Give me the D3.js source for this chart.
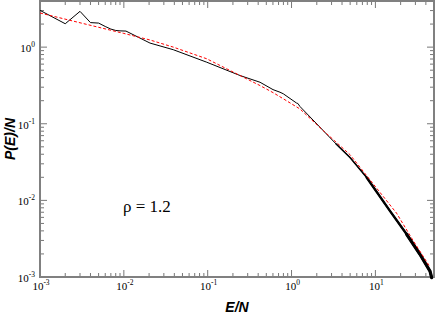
<!DOCTYPE html>
<html>
<head>
<meta charset="utf-8">
<script src="https://cdn.jsdelivr.net/npm/d3@7"></script>
<style>
  body { margin: 0; background: #fff; }
</style>
</head>
<body>
<div id="chart-area"></div>
<script>
// simulation histogram
const simE = [0.001, 0.002, 0.003, 0.004, 0.005, 0.006, 0.007, 0.008, 0.009, 0.0106,
  0.015, 0.0205, 0.0389, 0.0973, 0.243, 0.421, 0.601, 0.728, 0.798, 1.15, 1.19, 1.26,
  2.39, 3.4, 4.98, 7.87, 14.9, 23.6, 34.0, 44.8, 46.9]
const simP = [3.02, 2.02, 2.93, 2.09, 2.06, 1.86, 1.72, 1.65, 1.63, 1.62,
  1.34, 1.13, 0.925, 0.636, 0.426, 0.348, 0.279, 0.258, 0.246, 0.186, 0.184, 0.168,
  0.0813, 0.0544, 0.0363, 0.0199, 0.0073, 0.00361, 0.00198, 0.00119, 0.00098]

// fit (red dashed)
const fitE = [0.001, 0.003, 0.01, 0.0205, 0.0389, 0.0973, 0.243, 0.421, 0.601, 0.79,
  1.26, 2.39, 4.98, 8.63, 17.9, 28.1, 44.8]
const fitP = [2.79, 2.08, 1.51, 1.24, 1.0, 0.705, 0.426, 0.315, 0.255, 0.213,
  0.156, 0.0813, 0.0395, 0.0185, 0.0068, 0.0030, 0.00135]

const xDecades = [-3, -2, -1, 0, 1]
const yDecades = [-3, -2, -1, 0]
const label = 'ρ = 1.2'

const canvas = { width: 436, height: 315 }
const frame = { left: 40, right: 434, top: 1, bottom: 277 }

const svg = d3.select('#chart-area')
  .append('svg')
  .attr('width', canvas.width)
  .attr('height', canvas.height)

const x = d3.scaleLog().domain([1e-3, 50]).range([frame.left, frame.right])
const y = d3.scaleLog().domain([1e-3, 4]).range([frame.bottom, frame.top])

// minor tick positions inside the domain
function minors(scale, decades) {
  const [lo, hi] = scale.domain()
  const out = []
  decades.concat([d3.max(decades) + 1]).forEach(k => {
    for (let m = 2; m <= 9; m++) {
      const v = m * Math.pow(10, k)
      if (v > lo && v < hi) out.push(v)
    }
  })
  return out
}

const ticks = svg.append('g').attr('stroke', '#777').attr('stroke-width', 1)
const majX = xDecades.map(k => Math.pow(10, k))
const majY = yDecades.map(k => Math.pow(10, k))

majX.forEach(v => {
  ticks.append('line').attr('x1', x(v)).attr('x2', x(v)).attr('y1', frame.bottom).attr('y2', frame.bottom - 7)
  ticks.append('line').attr('x1', x(v)).attr('x2', x(v)).attr('y1', frame.top).attr('y2', frame.top + 7)
})
minors(x, xDecades).forEach(v => {
  ticks.append('line').attr('x1', x(v)).attr('x2', x(v)).attr('y1', frame.bottom).attr('y2', frame.bottom - 4)
  ticks.append('line').attr('x1', x(v)).attr('x2', x(v)).attr('y1', frame.top).attr('y2', frame.top + 4)
})
majY.forEach(v => {
  ticks.append('line').attr('y1', y(v)).attr('y2', y(v)).attr('x1', frame.left).attr('x2', frame.left + 7)
  ticks.append('line').attr('y1', y(v)).attr('y2', y(v)).attr('x1', frame.right).attr('x2', frame.right - 7)
})
minors(y, yDecades).forEach(v => {
  ticks.append('line').attr('y1', y(v)).attr('y2', y(v)).attr('x1', frame.left).attr('x2', frame.left + 4)
  ticks.append('line').attr('y1', y(v)).attr('y2', y(v)).attr('x1', frame.right).attr('x2', frame.right - 4)
})

// frame
svg.append('rect')
  .attr('x', frame.left).attr('y', frame.top)
  .attr('width', frame.right - frame.left).attr('height', frame.bottom - frame.top)
  .attr('fill', 'none').attr('stroke', '#808080').attr('stroke-width', 2)

// tick labels
const serif = "'Times New Roman', 'Liberation Serif', 'DejaVu Serif', serif"
xDecades.forEach(k => {
  const t = svg.append('text')
    .attr('x', x(Math.pow(10, k)) + 1).attr('y', 290)
    .attr('text-anchor', 'middle')
    .style('font-family', serif).attr('font-size', 11).attr('fill', '#000')
  t.append('tspan').text('10')
  t.append('tspan').attr('dy', -5).attr('font-size', 7.5).text(k)
})
yDecades.forEach(k => {
  const t = svg.append('text')
    .attr('x', 35).attr('y', y(Math.pow(10, k)) + 5)
    .attr('text-anchor', 'end')
    .style('font-family', serif).attr('font-size', 11).attr('fill', '#000')
  t.append('tspan').text('10')
  t.append('tspan').attr('dy', -5).attr('font-size', 7.5).text(k)
})

// axis titles
const sans = "Arial, 'Liberation Sans', sans-serif"
svg.append('text')
  .attr('x', (frame.left + frame.right) / 2).attr('y', 312)
  .attr('text-anchor', 'middle')
  .style('font-family', sans).attr('font-size', 14)
  .attr('font-weight', 'bold').attr('font-style', 'italic')
  .text('E/N')
svg.append('text')
  .attr('transform', `translate(15, ${(frame.top + frame.bottom) / 2}) rotate(-90)`)
  .attr('text-anchor', 'middle')
  .style('font-family', sans).attr('font-size', 14)
  .attr('font-weight', 'bold').attr('font-style', 'italic')
  .text('P(E)/N')

const line = d3.line()
  .x(d => x(d[0]))
  .y(d => y(d[1]))

const sim = simE.map((e, i) => [e, simP[i]])
const fit = fitE.map((e, i) => [e, fitP[i]])

svg.append('path')
  .attr('d', line(sim))
  .attr('fill', 'none').attr('stroke', '#000').attr('stroke-width', 1)

// noisy tail gets thicker towards high E
const tail = [[3.4, 1.6], [7.87, 2.4], [20, 3.2]]
tail.forEach(([from, w]) => {
  svg.append('path')
    .attr('d', line(sim.filter(d => d[0] >= from)))
    .attr('fill', 'none').attr('stroke', '#000').attr('stroke-width', w)
    .attr('stroke-linecap', 'round')
})

svg.append('path')
  .attr('d', line(fit))
  .attr('fill', 'none').attr('stroke', '#ff0000').attr('stroke-width', 1)
  .attr('stroke-dasharray', '3,2')

svg.append('text')
  .attr('x', 123).attr('y', 212)
  .style('font-family', serif).attr('font-size', 17)
  .text(label)
</script>
</body>
</html>
